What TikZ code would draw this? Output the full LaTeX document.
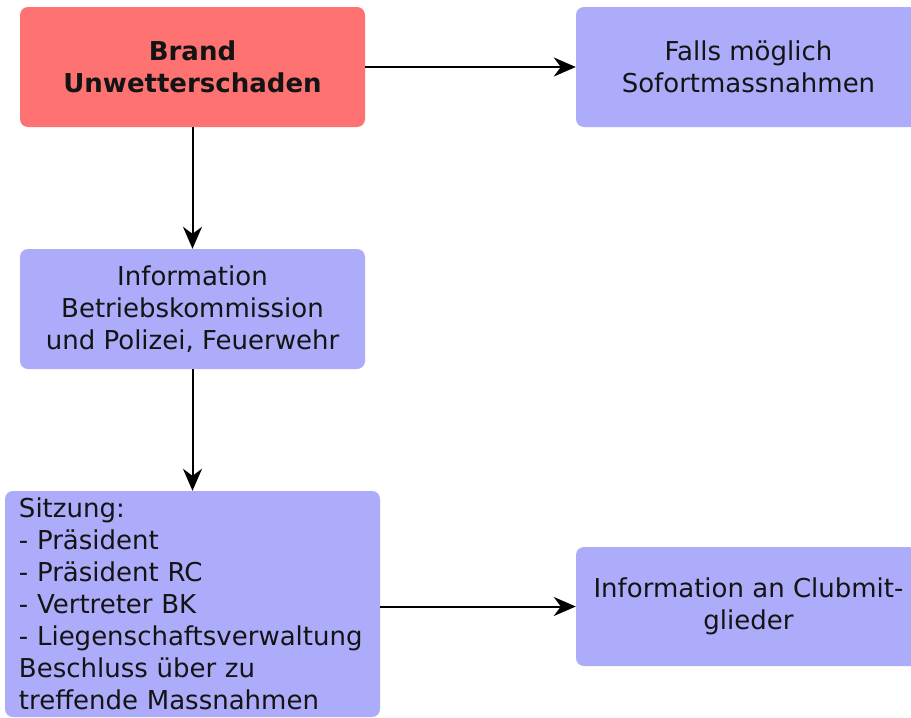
\documentclass[tikz,border=0pt]{standalone}
\usepackage{fontspec}
\setmainfont{DejaVu Sans}
\usetikzlibrary{arrows.meta}

\definecolor{brandrot}{RGB}{255,114,114}
\definecolor{kastenblau}{RGB}{172,172,250}

\begin{document}
\begin{tikzpicture}[x=1pt, y=-1pt,
	kasten/.style={rectangle, rounded corners=8pt, fill=kastenblau, minimum width=345pt, minimum height=120pt, align=center, text=black!92, font=\fontsize{26}{32}\selectfont},
	pfeil/.style={-{Stealth[length=22pt, width=19pt, inset=7pt]}, line width=2pt}]
	\clip (0,0) rectangle (911,718);				% Bildrand
	\fill[white] (0,0) rectangle (911,718);
	
	\node [kasten, fill=brandrot, font=\fontsize{26}{32}\selectfont\bfseries] (brand) at (192.5, 67) {Brand\\Unwetterschaden};
	\node [kasten] (sofort) at (748.5, 67) {Falls möglich\\Sofortmassnahmen};
	\node [kasten] (info) at (192.5, 309) {Information\\Betriebskommission\\und Polizei, Feuerwehr};
	\node [kasten, align=left, text width=347pt, inner xsep=14pt, minimum height=226pt] (sitzung) at (192.5, 604)
		{Sitzung:\\- Präsident\\- Präsident RC\\- Vertreter BK\\- Liegenschaftsverwaltung\\Beschluss über zu\\treffende Massnahmen};
	\node [kasten, minimum height=119pt] (club) at (748.5, 606.5) {Information an Clubmit-\\glieder};
	
	\draw [pfeil] (brand) -- (sofort);				% nach rechts
	\draw [pfeil] (brand) -- (info);				% nach unten
	\draw [pfeil] (info) -- (sitzung);
	\draw [pfeil] (sitzung.east |- club.west) -- (club);

\end{tikzpicture}
\end{document}
